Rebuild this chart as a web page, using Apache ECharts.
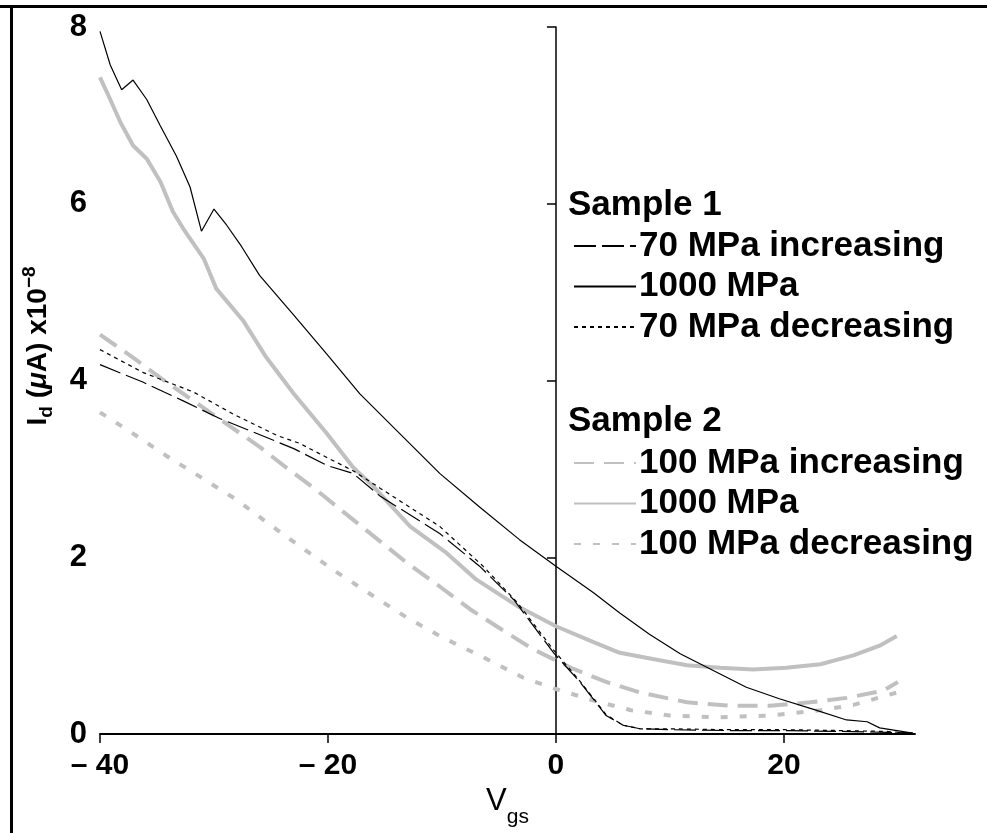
<!DOCTYPE html>
<html>
<head>
<meta charset="utf-8">
<script src="https://cdn.jsdelivr.net/npm/echarts@6/dist/echarts.min.js"></script>
<style>html,body{margin:0;padding:0;background:#fff}#c{width:987px;height:833px}</style>
</head>
<body>
<div id="c"></div>
<script>
// ---- data ----
const xTicks = [-40, -20, 0, 20];
const yTicks = [0, 2, 4, 6, 8];

const s1_70inc_x = [-40, -36.2, -32.7, -29.5, -26.6, -23.0, -20.1, -17.8, -15.4, -10.2, -6.7, -3.7, -0.2, 2.1, 4.4, 5.9, 7.4, 10, 15, 20, 25, 29, 31.3];
const s1_70inc_y = [4.18, 3.98, 3.77, 3.57, 3.42, 3.23, 3.04, 2.95, 2.69, 2.27, 1.90, 1.52, 0.92, 0.59, 0.21, 0.10, 0.06, 0.05, 0.04, 0.04, 0.03, 0.02, 0.01];

const s1_1000_x = [-40, -39.1, -38.1, -37.1, -35.9, -34.7, -33.3, -32.1, -31.1, -30.0, -28.9, -27.6, -26.0, -23.0, -20.1, -17.2, -13.7, -10.2, -6.7, -3.2, 0, 3.3, 5.6, 8.2, 10.9, 13.8, 16.7, 19.6, 22.6, 25.5, 27.3, 28.4, 31.3];
const s1_1000_y = [7.95, 7.57, 7.29, 7.40, 7.18, 6.88, 6.54, 6.19, 5.69, 5.94, 5.76, 5.52, 5.19, 4.74, 4.30, 3.85, 3.40, 2.95, 2.57, 2.20, 1.90, 1.60, 1.37, 1.13, 0.91, 0.72, 0.53, 0.40, 0.28, 0.16, 0.14, 0.07, 0.01];

const s1_70dec_x = [-40, -36.2, -31.8, -28.3, -24.5, -22.5, -20.1, -17.8, -15.4, -10.2, -6.4, -3.4, -0.2, 2.1, 4.4, 5.9, 7.4, 10, 15, 20, 25, 29, 31.3];
const s1_70dec_y = [4.35, 4.09, 3.87, 3.62, 3.38, 3.29, 3.13, 2.98, 2.78, 2.35, 1.90, 1.49, 0.95, 0.60, 0.22, 0.10, 0.06, 0.06, 0.05, 0.05, 0.04, 0.03, 0.01];

const s2_100inc_x = [-40, -37.1, -34.7, -31.8, -28.9, -26.0, -23.6, -21.0, -18.9, -16.0, -13.1, -10.2, -7.5, -4.6, -2.0, 1.5, 4.4, 7.4, 11.5, 15.3, 18.8, 22.3, 25.5, 28.7, 30.0];
const s2_100inc_y = [4.52, 4.26, 4.03, 3.77, 3.51, 3.25, 3.01, 2.76, 2.54, 2.24, 1.94, 1.67, 1.41, 1.17, 0.96, 0.74, 0.59, 0.47, 0.36, 0.32, 0.32, 0.36, 0.41, 0.49, 0.59];

const s2_1000_x = [-40, -39.1, -38.2, -37.1, -35.9, -34.7, -33.6, -32.7, -30.9, -29.8, -27.4, -25.4, -23.0, -20.1, -17.8, -16.0, -12.8, -9.6, -7.0, -3.4, 0, 3.3, 5.6, 8.5, 11.5, 14.4, 17.3, 20.2, 23.2, 26.1, 28.4, 29.9];
const s2_1000_y = [7.43, 7.18, 6.92, 6.66, 6.51, 6.25, 5.91, 5.72, 5.38, 5.04, 4.67, 4.26, 3.85, 3.40, 3.02, 2.80, 2.35, 2.05, 1.75, 1.45, 1.22, 1.04, 0.92, 0.85, 0.78, 0.75, 0.73, 0.75, 0.79, 0.89, 1.00, 1.11];

const s2_100dec_x = [-40, -37.1, -34.2, -31.2, -28.0, -25.1, -22.2, -19.2, -16.0, -13.1, -9.9, -6.4, -2.9, 0, 3.3, 6.6, 10.0, 14.4, 18.8, 23.2, 26.1, 29.9];
const s2_100dec_y = [3.64, 3.40, 3.15, 2.91, 2.65, 2.37, 2.10, 1.83, 1.56, 1.32, 1.09, 0.87, 0.64, 0.51, 0.38, 0.27, 0.21, 0.19, 0.21, 0.27, 0.33, 0.47];

const sample1Names = ['70 MPa increasing', '1000 MPa', '70 MPa decreasing'];
const sample2Names = ['100 MPa increasing', '1000 MPa', '100 MPa decreasing'];

// ---- build ----
const FONT = '"Liberation Sans", Arial, Helvetica, sans-serif';
const GRAY = '#c0c0c0';
const zip = (xs, ys) => xs.map((x, i) => [x, ys[i]]);

function mk(name, xs, ys, color, width, type) {
  return {
    name: name, type: 'line', data: zip(xs, ys),
    xAxisIndex: 0, yAxisIndex: 0,
    symbol: 'none', showSymbol: false, smooth: false,
    lineStyle: { color: color, width: width, type: type },
    itemStyle: { color: color },
    emphasis: { disabled: true }, silent: true, z: 3
  };
}

const series = [
  mk('S2|' + sample2Names[0], s2_100inc_x, s2_100inc_y, GRAY, 4, [20, 10]),
  mk('S2|' + sample2Names[1], s2_1000_x, s2_1000_y, GRAY, 4, 'solid'),
  mk('S2|' + sample2Names[2], s2_100dec_x, s2_100dec_y, GRAY, 4, [7, 12]),
  mk('S1|' + sample1Names[0], s1_70inc_x, s1_70inc_y, '#000', 1.2, [22, 6]),
  mk('S1|' + sample1Names[1], s1_1000_x, s1_1000_y, '#000', 1.2, 'solid'),
  mk('S1|' + sample1Names[2], s1_70dec_x, s1_70dec_y, '#000', 1.2, [4, 4])
];

const legendBase = {
  orient: 'vertical', left: 573, padding: 0,
  itemWidth: 62, itemHeight: 14, itemGap: 4.5,
  selectedMode: false,
  itemStyle: { opacity: 0 },
  textStyle: { fontFamily: FONT, fontSize: 35, fontWeight: 'bold', color: '#000', lineHeight: 36, padding: [0, 0, 0, -2] },
  formatter: n => n.split('|')[1]
};

const chart = echarts.init(document.getElementById('c'), null, { renderer: 'canvas' });
chart.setOption({
  animation: false,
  backgroundColor: '#fff',
  grid: { left: 100, right: 72, top: 27, bottom: 94, containLabel: false },
  title: [
    { text: 'Sample 1', left: 568, top: 188, padding: 0, textStyle: { fontFamily: FONT, fontSize: 35, fontWeight: 'bold', color: '#000' } },
    { text: 'Sample 2', left: 568, top: 404, padding: 0, textStyle: { fontFamily: FONT, fontSize: 35, fontWeight: 'bold', color: '#000' } }
  ],
  legend: [
    Object.assign({}, legendBase, { top: 228, data: sample1Names.map(n => 'S1|' + n) }),
    Object.assign({}, legendBase, { top: 445, data: sample2Names.map(n => 'S2|' + n) })
  ],
  xAxis: [{
    type: 'value', min: -40, max: 31.5, interval: 20,
    axisLine: { show: true, onZero: false, lineStyle: { color: '#000', width: 2 } },
    axisTick: { show: true, length: 9, customValues: xTicks, lineStyle: { color: '#000', width: 1.5 } },
    axisLabel: {
      customValues: xTicks, margin: 17, color: '#000', fontFamily: FONT, fontSize: 30, fontWeight: 'bold',
      formatter: v => v < 0 ? '\u2013 ' + Math.abs(v) : String(v)
    },
    splitLine: { show: false },
    name: '{v|V}{s|gs}', nameLocation: 'middle', nameGap: 48,
    nameTextStyle: {
      rich: {
        v: { fontFamily: FONT, fontSize: 31, color: '#000', lineHeight: 34, verticalAlign: 'top' },
        s: { fontFamily: FONT, fontSize: 21, color: '#000', lineHeight: 21, verticalAlign: 'bottom', padding: [0, 0, -8, 0] }
      }
    }
  }],
  yAxis: [{
    type: 'value', min: 0, max: 8, interval: 2, position: 'left',
    axisLine: { show: false, onZero: false },
    axisTick: { show: false },
    axisLabel: { margin: 13, color: '#000', fontFamily: FONT, fontSize: 31, fontWeight: 'bold' },
    splitLine: { show: false }
  }, {
    type: 'value', min: 0, max: 8, interval: 2, position: 'left',
    axisLine: { show: true, onZero: true, onZeroAxisIndex: 0, lineStyle: { color: '#000', width: 1.5 } },
    axisTick: { show: true, length: 9, lineStyle: { color: '#000', width: 1.5 } },
    axisLabel: { show: false },
    splitLine: { show: false }
  }],
  graphic: [
    { type: 'line', shape: { x1: 0, y1: 6.5, x2: 987, y2: 6.5 }, style: { stroke: '#000', lineWidth: 3 }, silent: true },
    { type: 'line', shape: { x1: 11.5, y1: 5, x2: 11.5, y2: 833 }, style: { stroke: '#000', lineWidth: 3 }, silent: true },
    {
      type: 'text', x: 38, y: 346, rotation: Math.PI / 2, silent: true,
      style: {
        text: '{b|I}{sub|d}{b| (}{it|\u03bc}{b|A) x10}{sup|\u22128}',
        align: 'center', verticalAlign: 'middle',
        rich: {
          b: { fontFamily: FONT, fontSize: 28, fontWeight: 'bold', fill: '#000', lineHeight: 36 },
          it: { fontFamily: FONT, fontSize: 28, fontWeight: 'bold', fontStyle: 'italic', fill: '#000', lineHeight: 36 },
          sub: { fontFamily: FONT, fontSize: 19, fontWeight: 'bold', fill: '#000', lineHeight: 19, verticalAlign: 'bottom' },
          sup: { fontFamily: FONT, fontSize: 19, fontWeight: 'bold', fill: '#000', lineHeight: 19, verticalAlign: 'top' }
        }
      }
    }
  ],
  series: series
});
</script>
</body>
</html>
